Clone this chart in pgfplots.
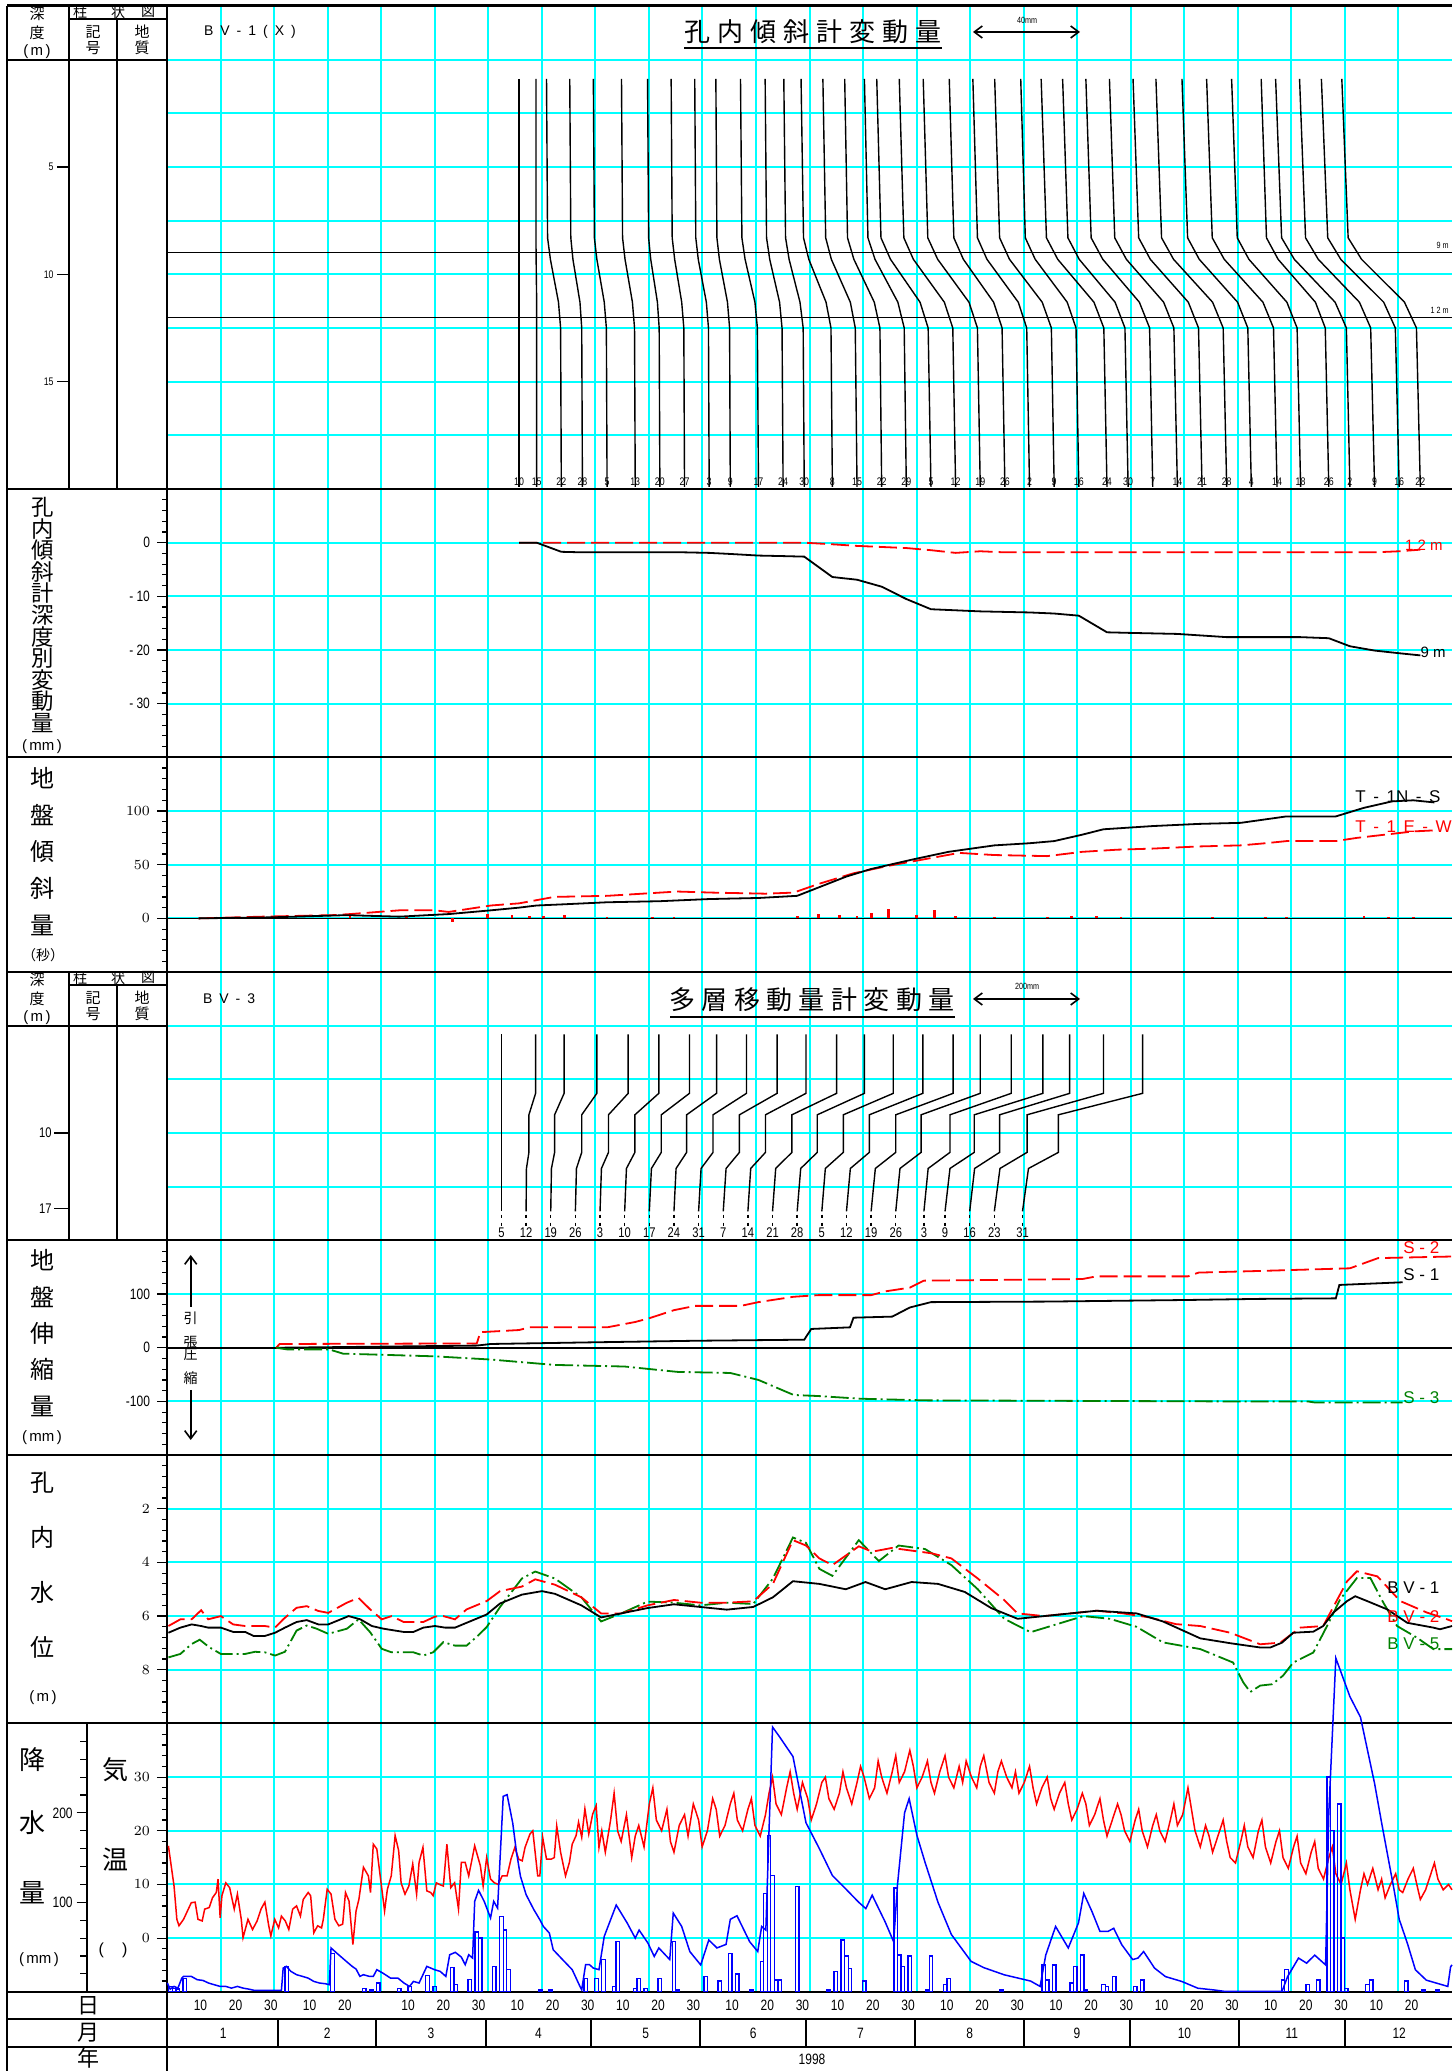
\documentclass[border=0pt]{standalone}
\usepackage{fontspec}
\setmainfont{Liberation Sans}
\newfontfamily\jp{Noto Sans CJK JP}
\newfontfamily\nar{Liberation Sans}[FakeStretch=0.8]
\usepackage{pgfplots}
\pgfplotsset{compat=1.18}
\usetikzlibrary{arrows.meta}
\definecolor{grn}{RGB}{0,128,0}
\definecolor{cya}{RGB}{0,255,255}
\definecolor{rd}{RGB}{255,0,0}
\definecolor{bl}{RGB}{0,0,255}
\newcommand\fs[1]{\fontsize{#1}{#1}\selectfont}
\pgfplotsset{panel/.style={scale only axis, width=642.5pt, xmin=0, xmax=365, xtick=\empty, anchor=south west,
  axis line style={draw=none}, ytick pos=left, tick align=outside, major tick length=5pt, minor tick length=2.5pt,
  tick style={black, line width=0.6pt}, yticklabel style={font=\nar\fs{7.5}}, clip=false},
  prof/.style={black, line width=0.7pt},
  rdash/.style={rd, line width=0.9pt, dash pattern=on 9pt off 3pt},
  gdd/.style={grn, line width=0.9pt, dash pattern=on 9pt off 2pt on 1pt off 2pt},
  blk/.style={black, line width=0.9pt},
  lbl/.style={only marks, mark=none, point meta=explicit symbolic, nodes near coords, nodes near coords align=center,
    every node near coord/.append style={font=\nar\fs{5.5}, inner sep=0pt, anchor=center}}}
\begin{document}
\begin{tikzpicture}[x=1pt,y=1pt]
\useasboundingbox (0,0) rectangle (726,1035.5);
\def\cx{26.77083}
\def\cy{26.835}
% ---------- cyan grid
\foreach \k in {1,...,23} \draw[cya,line width=1pt] ({83.5+\k*\cx},39.6) -- ({83.5+\k*\cx},1032.5);
\foreach \n in {1,2,3,4,5,6,7,8,10,11,12,13,15,16,17,19,20,21,22,24,25,26,28,29,30,31,33,34,35,36}
  \draw[cya,line width=1pt] (83.5,{1032.5-\n*\cy}) -- (726,{1032.5-\n*\cy});
% zero lines
\draw[black,line width=0.8pt] (83.5,{1032.5-17*\cy}) -- (726,{1032.5-17*\cy});
\draw[black,line width=0.8pt] (83.5,{1032.5-25*\cy}) -- (726,{1032.5-25*\cy});
% ---------- frame
\draw[line width=1.5pt] (3.5,1032.5) -- (726,1032.5);
\foreach \n in {9,14,18,23,27,32,37} \draw[line width=1pt] (3.5,{1032.5-\n*\cy}) -- (726,{1032.5-\n*\cy});
\draw[line width=1pt] (3.5,26) -- (726,26);
\draw[line width=1pt] (3.5,12) -- (726,12);
\draw[line width=1pt] (3.5,0) -- (3.5,1032.5);
\draw[line width=1pt] (83.5,0) -- (83.5,1032.5);
\draw[line width=1pt] (43.5,{1032.5-37*\cy}) -- (43.5,{1032.5-32*\cy});
% header columns panel 1
\draw[line width=1pt] (34.5,1032.5) -- (34.5,{1032.5-9*\cy});
\draw[line width=1pt] (58.5,1026) -- (58.5,{1032.5-9*\cy});
\draw[line width=1pt] (34.5,1026) -- (83.5,1026);
\draw[line width=1pt] (3.5,{1032.5-\cy}) -- (83.5,{1032.5-\cy});
% header columns panel 4
\draw[line width=1pt] (34.5,{1032.5-18*\cy}) -- (34.5,{1032.5-23*\cy});
\draw[line width=1pt] (58.5,{1026-18*\cy}) -- (58.5,{1032.5-23*\cy});
\draw[line width=1pt] (34.5,{1026-18*\cy}) -- (83.5,{1026-18*\cy});
\draw[line width=1pt] (3.5,{1032.5-19*\cy}) -- (83.5,{1032.5-19*\cy});
% month separators
\foreach \c in {31,59,90,120,151,181,212,243,273,304,334} \draw[line width=1pt] ({83.5+(\c+0.5)*1.76027},12) -- ({83.5+(\c+0.5)*1.76027},26);

% ================= PANEL 1 : BV-1(X) inclinometer profiles
\begin{axis}[panel, at={(83.5pt,791.0pt)}, height=241.5pt, ymin=-2.5, ymax=20, y dir=reverse, ytick=\empty]
\addplot[black,line width=0.6pt] coordinates {(0,9) (365,9)};
\addplot[black,line width=0.6pt] coordinates {(0,12) (365,12)};
\addplot[prof] coordinates {(100,0.9)(100,19.9)};
\addplot[prof] coordinates {(104.8,0.9)(104.8,8.3)(104.85,9.3)(105,11.3)(105,19.9)};
\addplot[prof] coordinates {(107.8,0.9)(108.1,8.3)(108.9,9.3)(111.2,11.3)(111.8,12.5)(112,19.9)};
\addplot[prof] coordinates {(114.4,0.9)(114.7,8.3)(115.3,9.3)(117.3,11.3)(117.8,12.5)(118,19.9)};
\addplot[prof] coordinates {(121.1,0.9)(121.4,8.3)(122.1,9.3)(124.2,11.3)(124.8,12.5)(125,19.9)};
\addplot[prof] coordinates {(129.1,0.9)(129.4,8.3)(130.1,9.3)(132.2,11.3)(132.8,12.5)(133,19.9)};
\addplot[prof] coordinates {(136.5,0.9)(136.8,8.3)(137.4,9.3)(139.3,11.3)(139.8,12.5)(140,19.9)};
\addplot[prof] coordinates {(143.2,0.9)(143.5,8.3)(144.2,9.3)(146.2,11.3)(146.8,12.5)(147,19.9)};
\addplot[prof] coordinates {(149.9,0.9)(150.2,8.3)(150.9,9.3)(153.2,11.3)(153.8,12.5)(154,19.9)};
\addplot[prof] coordinates {(155.9,0.9)(156.2,8.3)(156.9,9.3)(159.2,11.3)(159.8,12.5)(160,19.9)};
\addplot[prof] coordinates {(162.9,0.9)(163.3,8.3)(164.2,9.3)(167,11.3)(167.7,12.5)(168,19.9)};
\addplot[prof] coordinates {(169.9,0.9)(170.3,8.3)(171.2,9.3)(174,11.3)(174.7,12.5)(175,19.9)};
\addplot[prof] coordinates {(175.2,0.9)(175.7,8.3)(176.7,9.3)(179.8,11.3)(180.7,12.5)(181,19.9)};
\addplot[prof] coordinates {(180.1,0.9)(180.8,8.3)(182.3,9.3)(187.2,11.3)(188.6,12.5)(189,19.9)};
\addplot[prof] coordinates {(186.3,0.9)(187.1,8.3)(188.7,9.3)(194.1,11.3)(195.5,12.5)(196,19.9)};
\addplot[prof] coordinates {(192.5,0.9)(193.3,8.3)(195.1,9.3)(200.9,11.3)(202.5,12.5)(203,19.9)};
\addplot[prof] coordinates {(198.1,0.9)(199.1,8.3)(201.1,9.3)(207.6,11.3)(209.4,12.5)(210,19.9)};
\addplot[prof] coordinates {(201.6,0.9)(202.8,8.3)(205.5,9.3)(213.9,11.3)(216.2,12.5)(217,19.9)};
\addplot[prof] coordinates {(208,0.9)(209.3,8.3)(212,9.3)(220.8,11.3)(223.2,12.5)(224,19.9)};
\addplot[prof] coordinates {(214.8,0.9)(216.1,8.3)(218.9,9.3)(227.8,11.3)(230.2,12.5)(231,19.9)};
\addplot[prof] coordinates {(222.2,0.9)(223.5,8.3)(226.2,9.3)(234.8,11.3)(237.2,12.5)(238,19.9)};
\addplot[prof] coordinates {(228.9,0.9)(230.2,8.3)(232.9,9.3)(241.8,11.3)(244.2,12.5)(245,19.9)};
\addplot[prof] coordinates {(235.1,0.9)(236.5,8.3)(239.3,9.3)(248.6,11.3)(251.2,12.5)(252,19.9)};
\addplot[prof] coordinates {(242.5,0.9)(243.8,8.3)(246.6,9.3)(255.7,11.3)(258.2,12.5)(259,19.9)};
\addplot[prof] coordinates {(248.3,0.9)(249.8,8.3)(253,9.3)(263.3,11.3)(266.1,12.5)(267,19.9)};
\addplot[prof] coordinates {(254.4,0.9)(255.9,8.3)(259.1,9.3)(269.3,11.3)(272.1,12.5)(273,19.9)};
\addplot[prof] coordinates {(261,0.9)(262.5,8.3)(265.8,9.3)(276.2,11.3)(279.1,12.5)(280,19.9)};
\addplot[prof] coordinates {(267.7,0.9)(269.2,8.3)(272.5,9.3)(283.1,11.3)(286,12.5)(287,19.9)};
\addplot[prof] coordinates {(274.4,0.9)(276,8.3)(279.3,9.3)(290.1,11.3)(293,12.5)(294,19.9)};
\addplot[prof] coordinates {(280.9,0.9)(282.5,8.3)(285.9,9.3)(297,11.3)(300,12.5)(301,19.9)};
\addplot[prof] coordinates {(288.3,0.9)(289.9,8.3)(293.2,9.3)(304.1,11.3)(307,12.5)(308,19.9)};
\addplot[prof] coordinates {(295.3,0.9)(296.9,8.3)(300.3,9.3)(311.3,11.3)(314.3,12.5)(315.3,19.9)};
\addplot[prof] coordinates {(302.4,0.9)(304,8.3)(307.3,9.3)(318.1,11.3)(321,12.5)(322,19.9)};
\addplot[prof] coordinates {(310.8,0.9)(312.3,8.3)(315.6,9.3)(326.2,11.3)(329,12.5)(330,19.9)};
\addplot[prof] coordinates {(314.9,0.9)(316.6,8.3)(320.2,9.3)(331.8,11.3)(335,12.5)(336,19.9)};
\addplot[prof] coordinates {(321.7,0.9)(323.4,8.3)(327,9.3)(338.7,11.3)(341.9,12.5)(343,19.9)};
\addplot[prof] coordinates {(327.9,0.9)(329.7,8.3)(333.4,9.3)(345.6,11.3)(348.9,12.5)(350,19.9)};
\addplot[prof] coordinates {(333.7,0.9)(335.5,8.3)(339.3,9.3)(351.5,11.3)(354.9,12.5)(356,19.9)};
\addplot[lbl] table[meta=l] {
x y l
100 19.65 10
105 19.65 15
112 19.65 22
118 19.65 28
125 19.65 5
133 19.65 13
140 19.65 20
147 19.65 27
154 19.65 3
160 19.65 9
168 19.65 17
175 19.65 24
181 19.65 30
189 19.65 8
196 19.65 15
203 19.65 22
210 19.65 29
217 19.65 5
224 19.65 12
231 19.65 19
238 19.65 26
245 19.65 2
252 19.65 9
259 19.65 16
267 19.65 24
273 19.65 30
280 19.65 7
287 19.65 14
294 19.65 21
301 19.65 28
308 19.65 4
315.3 19.65 14
322 19.65 18
330 19.65 26
336 19.65 2
343 19.65 9
350 19.65 16
356 19.65 22
};
\end{axis}

% ================= PANEL 2 : depth displacement
\begin{axis}[panel, at={(83.5pt,656.81pt)}, height=134.175pt, ymin=-40, ymax=10,
  ytick={-30,-20,-10,0}, yticklabels={- 30,- 20,- 10,0}, minor ytick={-40,-38,...,10}]
\addplot[rdash] coordinates {(100,0)(105,0)(112,0)(125,0)(140,0)(154,0)(168,0)(181,0)(189,-0.3)(196,-0.6)(203,-0.8)(210,-1.0)(217,-1.4)(224,-1.9)(231,-1.6)(238,-1.8)(245,-1.8)(259,-1.8)(273,-1.8)(287,-1.8)(301,-1.8)(315,-1.8)(330,-1.8)(343,-1.8)(350,-1.6)(356,-1.3)};
\addplot[blk] coordinates {(100,0)(105,0)(112,-1.7)(118,-1.8)(125,-1.8)(133,-1.8)(140,-1.8)(147,-1.8)(154,-1.9)(160,-2.1)(168,-2.4)(175,-2.5)(181,-2.6)(189,-6.4)(196,-6.9)(203,-8.2)(210,-10.5)(217,-12.4)(224,-12.6)(231,-12.8)(238,-12.9)(245,-13.0)(252,-13.2)(259,-13.6)(267,-16.7)(273,-16.8)(280,-16.9)(287,-17.0)(294,-17.3)(301,-17.6)(308,-17.6)(315,-17.6)(322,-17.6)(330,-17.8)(336,-19.3)(343,-20.1)(350,-20.6)(356,-21.0)};
\end{axis}

% ================= PANEL 3 : ground tilt
\begin{axis}[panel, at={(83.5pt,549.47pt)}, height=107.34pt, ymin=-50, ymax=150,
  ytick={0,50,100}, minor ytick={-50,-40,...,150}]
\addplot[rd, ycomb, line width=1.4pt] coordinates {(27,1)(52,3)(68,1)(81,-3)(91,4)(98,3)(103,2)(107,2)(113,3)(125,1)(138,1)(144,1)(179,2)(185,4)(191,3)(196,2)(200,5)(205,9)(213,3)(218,8)(224,2)(235,1)(250,1)(257,2)(264,2)(271,1)(297,1)(312,1)(318,1)(340,2)(347,1)(354,1)};
\addplot[rdash] coordinates {(9,0)(27,1.6)(47,3)(52,4)(66,7.5)(76,7.5)(80,6)(92,12)(100,14)(105,17)(110,20)(125,21)(135,23)(145,25)(155,24)(170,23)(178,24)(185,32)(195,42)(205,49)(215,55)(225,61)(235,59)(250,58)(260,62)(270,64)(280,65)(293,67)(305,68)(312,70)(318,72)(332,72)(338,75)(346,78)(354,81)(360,82)};
\addplot[blk] coordinates {(9,0)(30,1)(51,3)(66,1.6)(80,4)(92,7.5)(100,10)(105,12)(112,13)(125,15)(140,16)(154,18)(168,19)(179,21)(186,30)(193,39)(200,46)(212,55)(222,62)(235,68)(245,70)(252,72)(260,78)(266,83)(280,86)(293,88)(305,89)(318,95)(332,95)(340,103)(348,109)(354,110)(360,108)};
\end{axis}

% ================= PANEL 4 : BV-3 multi-layer
\begin{axis}[panel, at={(83.5pt,415.3pt)}, height=134.175pt, ymin=-5, ymax=20, y dir=reverse, ytick=\empty]
\addplot[prof] coordinates {(95,0.8)(95,17.3)};
\addplot[prof] coordinates {(104.7,0.8)(104.7,6.3)(102.8,8.3)(102.8,11.8)(102.1,13.3)(102,17.3)};
\addplot[prof] coordinates {(112.8,0.8)(112.8,6.3)(110.1,8.3)(110.1,11.8)(109.2,13.3)(109,17.3)};
\addplot[prof] coordinates {(122.1,0.8)(122.1,6.3)(117.8,8.3)(117.8,11.8)(116.3,13.3)(116,17.3)};
\addplot[prof] coordinates {(131,0.8)(131,6.3)(125.4,8.3)(125.4,11.8)(123.4,13.3)(123,17.3)};
\addplot[prof] coordinates {(139.7,0.8)(139.7,6.3)(132.9,8.3)(132.9,11.8)(130.5,13.3)(130,17.3)};
\addplot[prof] coordinates {(148.4,0.8)(148.4,6.3)(140.4,8.3)(140.4,11.8)(137.6,13.3)(137,17.3)};
\addplot[prof] coordinates {(156.1,0.8)(156.1,6.3)(147.6,8.3)(147.6,11.8)(144.6,13.3)(144,17.3)};
\addplot[prof] coordinates {(164.6,0.8)(164.6,6.3)(155.1,8.3)(155.1,11.8)(151.7,13.3)(151,17.3)};
\addplot[prof] coordinates {(173.3,0.8)(173.3,6.3)(162.6,8.3)(162.6,11.8)(158.8,13.3)(158,17.3)};
\addplot[prof] coordinates {(181.5,0.8)(181.5,6.3)(170,8.3)(170,11.8)(165.8,13.3)(165,17.3)};
\addplot[prof] coordinates {(190.2,0.8)(190.2,6.3)(177.5,8.3)(177.5,11.8)(172.9,13.3)(172,17.3)};
\addplot[prof] coordinates {(198.1,0.8)(198.1,6.3)(184.7,8.3)(184.7,11.8)(180,13.3)(179,17.3)};
\addplot[prof] coordinates {(206.3,0.8)(206.3,6.3)(192.1,8.3)(192.1,11.8)(187,13.3)(186,17.3)};
\addplot[prof] coordinates {(214.7,0.8)(214.7,6.3)(199.5,8.3)(199.5,11.8)(194.1,13.3)(193,17.3)};
\addplot[prof] coordinates {(223.3,0.8)(223.3,6.3)(207,8.3)(207,11.8)(201.2,13.3)(200,17.3)};
\addplot[prof] coordinates {(231,0.8)(231,6.3)(214.2,8.3)(214.2,11.8)(208.2,13.3)(207,17.3)};
\addplot[prof] coordinates {(239.8,0.8)(239.8,6.3)(222.4,8.3)(222.4,11.8)(216.2,13.3)(215,17.3)};
\addplot[prof] coordinates {(248.8,0.8)(248.8,6.3)(229.3,8.3)(229.3,11.8)(222.4,13.3)(221,17.3)};
\addplot[prof] coordinates {(256.4,0.8)(256.4,6.3)(236.5,8.3)(236.5,11.8)(229.4,13.3)(228,17.3)};
\addplot[prof] coordinates {(266,0.8)(266,6.3)(244.3,8.3)(244.3,11.8)(236.6,13.3)(235,17.3)};
\addplot[prof] coordinates {(277.1,0.8)(277.1,6.3)(253.2,8.3)(253.2,11.8)(244.7,13.3)(243,17.3)};
\addplot[black, line width=0.7pt, dash pattern=on 1.5pt off 2.5pt, unbounded coords=jump] coordinates {(95,17.6)(95,18.7)(95,nan)(102,17.6)(102,18.7)(102,nan)(109,17.6)(109,18.7)(109,nan)(116,17.6)(116,18.7)(116,nan)(123,17.6)(123,18.7)(123,nan)(130,17.6)(130,18.7)(130,nan)(137,17.6)(137,18.7)(137,nan)(144,17.6)(144,18.7)(144,nan)(151,17.6)(151,18.7)(151,nan)(158,17.6)(158,18.7)(158,nan)(165,17.6)(165,18.7)(165,nan)(172,17.6)(172,18.7)(172,nan)(179,17.6)(179,18.7)(179,nan)(186,17.6)(186,18.7)(186,nan)(193,17.6)(193,18.7)(193,nan)(200,17.6)(200,18.7)(200,nan)(207,17.6)(207,18.7)(207,nan)(215,17.6)(215,18.7)(215,nan)(221,17.6)(221,18.7)(221,nan)(228,17.6)(228,18.7)(228,nan)(235,17.6)(235,18.7)(235,nan)(243,17.6)(243,18.7)};
\addplot[lbl, every node near coord/.append style={font=\nar\fs{7}}] table[meta=l] {
x y l
95 19.3 5
102 19.3 12
109 19.3 19
116 19.3 26
123 19.3 3
130 19.3 10
137 19.3 17
144 19.3 24
151 19.3 31
158 19.3 7
165 19.3 14
172 19.3 21
179 19.3 28
186 19.3 5
193 19.3 12
200 19.3 19
207 19.3 26
215 19.3 3
221 19.3 9
228 19.3 16
235 19.3 23
243 19.3 31
};
\end{axis}

% ================= PANEL 5 : extension
\begin{axis}[panel, at={(83.5pt,307.955pt)}, height=107.34pt, ymin=-200, ymax=200,
  ytick={-100,0,100}, yticklabels={-100,0,100}, minor ytick={-200,-180,...,200}]
\addplot[rdash] coordinates {(31,0)(32,7)(88,8)(89,29)(100,33)(103,38)(125,38)(133,48)(137,55)(144,70)(150,78)(163,78)(168,85)(178,95)(185,98)(200,98)(204,105)(211,112)(215,125)(260,128)(264,133)(290,133)(293,140)(310,143)(336,148)(344,167)(365,170)};
\addplot[blk] coordinates {(31,0)(60,2)(88,4)(92,7)(120,10)(150,13)(181,15)(183,35)(194,38)(195,56)(206,58)(211,75)(217,85)(250,86)(290,89)(310,91)(332,92)(333,117)(351,122)};
\addplot[gdd] coordinates {(31,0)(34,-3)(46,-3)(50,-11)(76,-16)(92,-22)(110,-32)(130,-35)(145,-45)(160,-47)(168,-60)(178,-88)(185,-90)(197,-95)(215,-98)(300,-100)(324,-100)(326,-102)(351,-102)};
\end{axis}

% ================= PANEL 6 : groundwater level
\begin{axis}[panel, at={(83.5pt,173.78pt)}, height=134.175pt, ymin=0, ymax=10, y dir=reverse,
  ytick={2,4,6,8}, minor ytick={0,0.4,...,10}]
\addplot[gdd] coordinates {(0.4,7.54)(3.8,7.41)(7,7.04)(9.3,6.88)(12,7.16)(15.3,7.41)(18.8,7.41)(22.2,7.41)(25,7.33)(27.8,7.35)(30.7,7.47)(33.5,7.33)(36.8,6.54)(39.7,6.35)(42.5,6.47)(45.8,6.66)(51.1,6.47)(54.4,6.12)(57.7,6.6)(61,7.22)(63.8,7.35)(67.2,7.35)(70,7.35)(72.8,7.47)(75.6,7.35)(78.5,6.97)(81.8,7.1)(85.1,7.1)(88.4,6.72)(90.8,6.41)(94.6,5.66)(100.8,4.6)(104.6,4.34)(110.2,4.6)(117.7,5.3)(123.3,6.2)(129,5.9)(136.5,5.46)(144,5.5)(151.5,5.6)(159,5.5)(166.5,5.55)(172.1,4.6)(177.8,3.07)(181.5,3.27)(185.3,4.24)(189,4.5)(196.5,3.17)(202.2,3.95)(207.8,3.37)(215.3,3.5)(222.8,4.1)(230.3,5.0)(237.8,6.1)(245.3,6.6)(252.8,6.3)(260.3,6.0)(267.8,6.1)(275.4,6.4)(282.9,6.98)(293.5,7.23)(302.8,7.73)(305.7,8.47)(307.7,8.83)(310.5,8.59)(313.9,8.54)(317,8.22)(319.9,7.73)(325.6,7.36)(329.5,6.37)(333.2,5.38)(338,4.58)(341.8,4.58)(345.5,5.5)(349.4,6.37)(355,6.8)(359.7,7.23)(365,7.23)};
\addplot[rdash] coordinates {(0.4,6.37)(3.8,6.12)(7,6.12)(9.7,5.78)(11.7,6.12)(15.3,6.0)(18.8,6.31)(22.2,6.37)(27.8,6.37)(30.7,6.43)(33,6.12)(36.8,5.69)(39.7,5.63)(43,5.81)(45.8,5.88)(51.1,5.5)(54.4,5.32)(57.7,5.75)(61,6.12)(63.8,6.0)(67.2,6.22)(72.8,6.22)(76.1,6.02)(78.5,6.0)(81.8,6.12)(85.1,5.75)(90.8,5.44)(94.6,5.07)(100.8,4.9)(104.6,4.63)(110.2,4.83)(117.7,5.3)(123.3,5.9)(129,5.9)(136.5,5.6)(144,5.4)(151.5,5.5)(159,5.5)(166.5,5.45)(172.1,4.8)(177.8,3.17)(181.5,3.37)(185.3,3.85)(189,4.1)(196.5,3.4)(200.3,3.6)(205.9,3.46)(211.5,3.56)(217.2,3.66)(222.8,3.85)(230.3,4.6)(237.8,5.4)(241.6,5.9)(249.1,6.0)(256.6,5.9)(264.1,5.8)(271.6,5.9)(279.1,6.05)(286.6,6.3)(293.5,6.37)(302,6.62)(310.5,7.05)(316.2,6.99)(321.9,6.43)(328.4,6.37)(335.2,4.7)(338,4.33)(343.8,4.52)(350.3,5.44)(357.9,5.87)(363.6,6.12)(365,6.19)};
\addplot[blk] coordinates {(0.4,6.62)(3.8,6.43)(7,6.31)(9.7,6.37)(11.7,6.43)(15.3,6.43)(18.8,6.59)(22.2,6.59)(24.6,6.74)(27.8,6.74)(30.7,6.62)(33.5,6.43)(36.8,6.22)(39.7,6.15)(43,6.31)(45.8,6.31)(51.6,6.0)(54.9,6.12)(58.2,6.37)(61.5,6.47)(67.2,6.59)(70,6.59)(72.8,6.43)(76.1,6.37)(79,6.43)(81.8,6.43)(85.1,6.25)(90.8,5.94)(94.6,5.53)(100.8,5.2)(106.5,5.07)(110.2,5.17)(117.7,5.6)(123.3,6.05)(129,5.9)(136.5,5.7)(144,5.56)(151.5,5.66)(159,5.76)(166.5,5.66)(172.1,5.3)(177.8,4.7)(185.3,4.8)(192.8,5.0)(198.4,4.73)(204,5.0)(211.5,4.73)(219,4.8)(226.6,5.1)(234.1,5.7)(241.6,6.1)(249.1,6.0)(256.6,5.9)(264.1,5.8)(275.4,5.9)(282.9,6.2)(293.5,6.83)(302,7.01)(310.5,7.17)(313.4,7.17)(316.7,6.99)(319.9,6.62)(325.6,6.58)(328.4,6.37)(331.3,5.87)(335.2,5.44)(337.5,5.26)(340.9,5.44)(346.6,5.75)(352.3,6.25)(359.7,6.43)(361.6,6.49)(365,6.37)};
\end{axis}

% ================= PANEL 7 : temperature
\begin{axis}[panel, at={(83.5pt,39.605pt)}, height=134.175pt, ymin=-10, ymax=40,
  ytick={0,10,20,30}, minor ytick={-10,-8,...,40}]
\addplot[rd, line width=0.75pt] coordinates {(0.4,17.2)(2.0,9.7)(2.8,3.5)(3.4,2.3)(4.7,3.5)(5.8,5.05)(6.9,6.6)(8.0,6.7)(8.8,3.5)(10.0,3.2)(10.7,5.4)(12.0,5.7)(12.9,7.5)(14.0,8.5)(14.5,11.0)(15.1,3.8)(15.6,7.9)(16.7,10.3)(17.8,9.4)(19.1,5.4)(20.0,8.2)(21.1,3.5)(21.6,0.07)(23.0,3.5)(24.3,1.6)(25.6,3.2)(26.7,5.4)(27.8,6.7)(28.9,2.3)(29.5,0.4)(30.6,3.5)(31.7,1.9)(32.5,4.1)(33.6,3.2)(34.6,1.6)(35.7,5.4)(36.8,6.0)(37.9,4.1)(38.7,7.2)(40.1,8.5)(40.8,7.9)(41.7,1.0)(42.8,2.3)(43.9,1.9)(44.4,3.5)(45.5,9.1)(46.6,8.2)(47.7,3.5)(48.8,2.3)(49.9,2.6)(50.7,8.5)(51.7,6.9)(52.8,-1.2)(53.7,5.05)(54.5,7.2)(55.8,13.2)(57.2,11.6)(57.8,8.5)(58.6,17.5)(59.6,16.6)(61.8,5.05)(62.6,9.1)(63.7,11.6)(64.8,19.1)(65.8,16.3)(66.5,10.3)(67.6,8.2)(68.7,9.7)(69.8,13.8)(70.9,8.2)(71.6,14.1)(72.7,16.9)(73.8,8.8)(74.9,8.5)(75.6,7.9)(76.5,10.3)(77.4,10.0)(78.5,9.7)(79.5,17.5)(80.6,9.4)(81.7,10.3)(82.8,5.4)(83.6,14.1)(84.7,14.1)(85.7,11.6)(87.4,17.2)(89.0,13.5)(89.8,9.7)(90.8,15.0)(91.9,11.0)(93.0,10.3)(94.1,10.0)(95.2,11.6)(96.6,11.6)(97.7,14.7)(98.8,16.9)(99.9,14.7)(100.9,14.4)(101.7,16.9)(103.1,19.4)(103.9,20.0)(105.3,11.6)(105.9,11.6)(106.7,18.8)(107.8,14.7)(109.1,14.7)(110,15.0)(110.7,20.9)(111.8,16.0)(113.2,11.6)(114.3,14.1)(115.1,17.5)(116.2,19.1)(116.9,21.6)(117.8,18.8)(118.7,24.1)(119.8,19.4)(120.9,23.1)(121.9,24.7)(122.7,16.9)
(123.5,20)(124.5,16)(126,22)(127,27)(128,20)(129,18)(130.5,23)(132,15)(133,19)(134,21)(135.5,17)(137,25)(138,28)(139,22)(140.5,20)(142,24)(143,18)(144,16)(145.5,21)(147,23)(148,19)(149.5,25)(151,22)(152,17)(153.5,20)(155,26)(156,24)(157,19)(158.5,21)(160,25)(161,27)(162,22)(163.5,20)(165,24)(166,26)(167,21)(168.5,19)(170,23)(171,27)(172,30)(173,25)(174.5,23)(176,28)(177,31)(178,27)(179,24)(180.5,29)(182,26)(183,22)(184.5,25)(186,29)(187,30)(188,26)(189.5,24)(191,27)(192,31)(193,28)(194.5,25)(196,29)(197,32)(198,30)(199.5,26)(201,28)(202,33)(203,30)(204.5,27)(206,31)(207,34)(208,29)(209.5,31)(211,35)(212,32)(213,28)(214.5,30)(216,33)(217,29)(218,27)(219.5,31)(221,34)(222,30)(223.5,28)(225,32)(226,29)(227,33)(228.5,30)(230,28)(231,32)(232,34)(233.5,29)(235,27)(236,31)(237,33)(238.5,30)(240,28)(241,31)(242,27)(243.5,29)(245,32)(246,28)(247,25)(248.5,28)(250,30)(251,26)(252,24)(253.5,27)(255,29)(256,25)(257,22)(258.5,24)(260,27)(261,25)(262,21)(263.5,23)(265,26)(266,22)(267,19)(268.5,22)(270,25)(271,23)(272,20)(273.5,18)(275,22)(276,24)(277,20)(278.5,17)(280,21)(281,23)(282,20)(283.5,18)(285,22)(286,25)(287,21)(288.5,23)(290,28)(291,24)(292,20)(293.5,17)(295,21)(296,19)(297,16)(298.5,19)(300,22)(301,18)(302,15)(303.5,14)(305,18)(306,21)(307,17)(308.5,15)(310,20)(311,22)(312,17)(313.5,14)(315,18)(316,20)(317,15)(318.5,13)(320,17)(321,19)(322,14)(323.5,12)(325,16)(326,18)(327,13)(328.5,11)(330,15)(331,17)(332,12)(333.5,10)(335,14)(336,9)(337.5,3.5)(339,9)(340,12)(341,10)(342.5,13)(344,9)(345,11)(346,7.5)(347.5,10)(349,12)(350,9)(351,8.5)(352.5,11)(354,13)(355,10)(356,7.2)(357.5,9)(359,12)(360,14)(361,11)(362.5,9)(364,10)(365,9)};
\end{axis}
% precipitation axis
\begin{axis}[panel, at={(83.5pt,39.605pt)}, height=134.175pt, ymin=0, ymax=300, ytick=\empty]
\addplot[bl, ybar, bar width=1, bar shift=0pt, fill=none, line width=0.7pt] coordinates {(1,6)(2,4)(3,3)(5,15)(34,28)(47,43)(56,4)(58,2)(60,10)(66,4)(69,6)(74,18)(76,6)(81,27)(82,8)(86,14)(88,67)(89,60)(93,28)(95,84)(96,69)(97,25)(106,2)(109,2)(119,15)(122,15)(124,36)(127,6)(128,56)(133,4)(134,15)(136,4)(140,15)(144,56)(145,2)(153,17)(157,12)(160,43)(162,20)(166,2)(169,34)(170,110)(171,175)(172,130)(173,13)(174,13)(179,118)(188,2)(190,23)(192,58)(193,40)(194,26)(198,12)(207,116)(208,41)(209,28)(211,40)(216,2)(217,40)(221,8)(222,15)(237,2)(249,30)(250,13)(252,30)(257,10)(258,28)(260,41)(261,2)(266,8)(267,6)(269,17)(275,6)(277,13)(317,13)(318,25)(324,8)(327,13)(330,240)(331,180)(333,210)(334,60)(335,4)(341,8)(342,13)(352,12)(357,2)(361,2)};
\addplot[bl, line width=0.75pt] coordinates {(0.1,9.8)(0.9,3.0)(2.0,6.0)(3.1,4.1)(4.2,15.3)(4.7,17.2)(6.9,17.2)(8.6,13.5)(10.2,12.7)(11.8,9.8)(13.4,7.9)(15.1,6.0)(16.7,6.0)(18.3,4.1)(20,6.0)(21.6,4.1)(23.2,3.0)(24.9,1.5)(32.5,1.5)(33,26.5)(33.9,28.4)(35.2,22.8)(36.8,19.1)(38.5,17.2)(40.1,15.3)(41.7,11.6)(43.3,9.8)(45,9.0)(46.1,7.9)(46.6,49)(48.2,43.3)(50.4,35.8)(52.6,28.4)(53.7,25.4)(54.8,17.2)(55.8,19.1)(57.5,17.2)(58.6,17.2)(59.6,24.7)(61.3,20.9)(63.5,15.3)(65.6,15.3)(67.3,9.8)(68.9,6.0)(70,11.6)(71.6,9.8)(73.8,28.4)(76,24.7)(77.6,22.8)(79.2,17.2)(80.3,41.4)(81.9,44.1)(83.6,38.8)(84.7,30.3)(85.7,41.4)(86.8,37.7)(87.4,101.1)(88.5,113.4)(90.1,101.1)(91.9,82.5)(92.8,101.1)(93.9,93.6)(95.5,218.5)(96.6,220.4)(98.2,188.7)(99.3,155.2)(100.4,129.1)(102,108.6)(104.2,91.8)(105.9,80.6)(106.9,73.1)(108.6,65.7)(109.7,47)(112.4,35.8)(115.1,24.7)(117.3,6.0)(117.8,2.3)(118.9,30.3)(120,30.3)(121.1,26.5)(122.7,24.7)(124.2,62)(127.6,97)(130.7,77)(133,60)(134.1,69)(136.6,54.5)(138.4,39.5)(139.7,49)(142.8,36)(143.8,88)(146.2,73)(148.5,45)(151.6,30)(153.9,58)(156.2,49)(158.8,53)(160,81)(161.9,85)(165.5,56)(167.8,45)(168.9,73)(170.1,69)(171,180)(172,296)(174,285)(177.8,263)(181.5,189)(185.3,160)(189,130)(192.8,115)(196.5,100)(198.5,93)(200.3,108)(204,78)(206.4,56)(207.5,120)(209.5,200)(210.8,216)(213,175)(215.3,145)(219,100)(222.8,64)(228.4,34)(232,27)(237.8,19)(245.3,12)(248,6)(249.6,41)(252.4,73)(256,49)(258.9,77)(260.4,110)(262.7,90)(265,67.5)(267.3,67.5)(268.9,71)(271.2,52.6)(274.3,36)(275.8,37.7)(277.4,45)(280.5,26.5)(283.6,17)(288.2,11.6)(292.8,4)(297.5,2)(300.5,0.4)(316.7,0.4)(318.3,17)(321.4,37.7)(323.7,32)(326,41)(329.1,30)(330,200)(332,373)(336,330)(339,307)(343,233)(345,189)(348.5,115)(350,81)(352.3,54.5)(354.6,24.6)(357.7,13)(363.8,6)(364.6,28)(365,30)};
\end{axis}

% ================= precipitation scale
\foreach \v in {20,40,...,280} \draw[line width=0.6pt] (40,{39.605+\v*0.44725}) -- (43.5,{39.605+\v*0.44725});
\draw[line width=0.6pt] (38.25,{39.605+100*0.44725}) -- (43.5,{39.605+100*0.44725});
\draw[line width=0.6pt] (38.25,{39.605+200*0.44725}) -- (43.5,{39.605+200*0.44725});
\node[font=\nar\fs{7.5}, anchor=east, inner sep=1pt] at (37.5,{39.605+200*0.44725}) {200};
\node[font=\nar\fs{7.5}, anchor=east, inner sep=1pt] at (37.5,{39.605+100*0.44725}) {100};

% ================= texts: panel 1 header
\node[font=\jp\fs{7.5}] at (18.5,1028.5) {深};
\node[font=\jp\fs{7.5}] at (18.5,1019) {度};
\node[font=\fs{7.5}] at (18.5,1009.5) {(\,m\,)};
\node[font=\jp\fs{7}] at (40,1029.5) {柱};
\node[font=\jp\fs{7}] at (59,1029.5) {状};
\node[font=\jp\fs{7}] at (74,1029.5) {図};
\node[font=\jp\fs{7.5}] at (46.5,1019.5) {記};
\node[font=\jp\fs{7.5}] at (46.5,1011.5) {号};
\node[font=\jp\fs{7.5}] at (71,1019.5) {地};
\node[font=\jp\fs{7.5}] at (71,1011.5) {質};
\node[font=\fs{7}, anchor=west] at (98.5,1019.5) {B\kern3.5pt V\kern3.5pt -\kern3.5pt 1\kern3.5pt (\kern3.5pt X\kern3.5pt )};
\node[font=\jp\fs{13}] at (406.5,1019.8) {孔\kern3.5pt 内\kern3.5pt 傾\kern3.5pt 斜\kern3.5pt 計\kern3.5pt 変\kern3.5pt 動\kern3.5pt 量};
\draw[line width=1.2pt] (342,1011.5) -- (471,1011.5);
\draw[{Straight Barb[length=4pt,width=6pt]}-{Straight Barb[length=4pt,width=6pt]}, line width=0.8pt] (486.5,1019.5) -- (540,1019.5);
\node[font=\nar\fs{4.5}] at (513.5,1025.5) {40mm};
\foreach \d in {5,10,15} {
  \draw[line width=0.6pt] (28.5,{1005.665-\d*10.733}) -- (34.5,{1005.665-\d*10.733});
  \node[font=\nar\fs{5.5}, anchor=east, inner sep=1pt] at (28,{1005.665-\d*10.733}) {\d};
}
\node[font=\nar\fs{4.5}, anchor=east, inner sep=0.5pt] at (725,912.7) {9 m};
\node[font=\nar\fs{4.5}, anchor=east, inner sep=0.5pt] at (725,880.3) {1 2 m};

% panel 2 texts
\node[font=\jp\fs{11.2}, align=center, inner sep=0pt] at (21.5,728) {孔\\[-0.4pt]内\\[-0.4pt]傾\\[-0.4pt]斜\\[-0.4pt]計\\[-0.4pt]深\\[-0.4pt]度\\[-0.4pt]別\\[-0.4pt]変\\[-0.4pt]動\\[-0.4pt]量};
\node[font=\fs{7.5}] at (21,662) {(\,mm\,)};
\node[font=\fs{7.5}, rd, anchor=east, inner sep=0.5pt] at (722,762.7) {1 2 m};
\node[font=\fs{7.5}, anchor=east, inner sep=0.5pt] at (723.5,709.2) {9 m};

% panel 3 texts
\node[font=\jp\fs{12}, align=center, inner sep=0pt] at (21.5,609.8) {地\\[6.4pt]盤\\[6.4pt]傾\\[6.4pt]斜\\[6.4pt]量};
\node[font=\jp\fs{7}] at (21.5,558) {（秒）};
\node[font=\fs{8.5}, anchor=west, inner sep=0pt] at (677.5,637.2) {T\,\ -\ \,1N\,\ -\ \,S};
\node[font=\fs{8.5}, rd, anchor=west, inner sep=0pt] at (677.5,622.2) {T\,\ -\ \,1\,\ E\,\ -\ \,W};

% panel 4 header
\node[font=\jp\fs{7.5}] at (18.5,545.5) {深};
\node[font=\jp\fs{7.5}] at (18.5,536) {度};
\node[font=\fs{7.5}] at (18.5,526.5) {(\,m\,)};
\node[font=\jp\fs{7}] at (40,546.5) {柱};
\node[font=\jp\fs{7}] at (59,546.5) {状};
\node[font=\jp\fs{7}] at (74,546.5) {図};
\node[font=\jp\fs{7.5}] at (46.5,536.5) {記};
\node[font=\jp\fs{7.5}] at (46.5,528.5) {号};
\node[font=\jp\fs{7.5}] at (71,536.5) {地};
\node[font=\jp\fs{7.5}] at (71,528.5) {質};
\node[font=\fs{7}, anchor=west] at (98,536) {B\kern3.5pt V\kern3.5pt -\kern3.5pt 3};
\node[font=\jp\fs{13}] at (406,535.5) {多\kern3.2pt 層\kern3.2pt 移\kern3.2pt 動\kern3.2pt 量\kern3.2pt 計\kern3.2pt 変\kern3.2pt 動\kern3.2pt 量};
\draw[line width=1.2pt] (335,527) -- (477.5,527);
\draw[{Straight Barb[length=4pt,width=6pt]}-{Straight Barb[length=4pt,width=6pt]}, line width=0.8pt] (486.5,536) -- (540,536);
\node[font=\nar\fs{4.5}] at (513.5,542.5) {200mm};
\draw[line width=0.6pt] (27,{522.63-10*5.3669}) -- (34.5,{522.63-10*5.3669});
\draw[line width=0.6pt] (27,{522.63-17*5.3669}) -- (34.5,{522.63-17*5.3669});
\node[font=\nar\fs{7}, anchor=east, inner sep=0.5pt] at (26.5,{522.63-10*5.3669}) {10};
\node[font=\nar\fs{7}, anchor=east, inner sep=0.5pt] at (26.5,{522.63-17*5.3669}) {17};

% panel 5 texts
\node[font=\jp\fs{12}, align=center, inner sep=0pt] at (21.5,369) {地\\[6.2pt]盤\\[6.2pt]伸\\[6.2pt]縮\\[6.2pt]量};
\node[font=\fs{7.5}] at (21,316.5) {(\,mm\,)};
\draw[-{Straight Barb[length=4pt,width=6pt]}, line width=0.8pt] (95.35,382.2) -- (95.35,408);
\draw[-{Straight Barb[length=4pt,width=6pt]}, line width=0.8pt] (95.35,340.5) -- (95.35,315.5);
\node[font=\jp\fs{7}] at (95.35,376.5) {引};
\node[font=\jp\fs{7}] at (95.35,364.5) {張};
\node[font=\jp\fs{7}] at (95.35,358) {圧};
\node[font=\jp\fs{7}] at (95.35,346.5) {縮};
\node[font=\fs{8.5}, rd, anchor=west, inner sep=0pt] at (701.5,411.5) {S\ -\ 2};
\node[font=\fs{8.5}, anchor=west, inner sep=0pt] at (701.5,398) {S\ -\ 1};
\node[font=\fs{8.5}, grn, anchor=west, inner sep=0pt] at (701.5,336.5) {S\ -\ 3};

% panel 6 texts
\node[font=\jp\fs{12}, align=center, inner sep=0pt] at (21.5,252.75) {孔\\[15.5pt]内\\[15.5pt]水\\[15.5pt]位};
\node[font=\fs{7.5}] at (21.5,186.5) {(\,m\,)};
\node[font=\fs{8.5}, anchor=west, inner sep=0pt] at (693.5,241.5) {B\ V\ -\ 1};
\node[font=\fs{8.5}, rd, anchor=west, inner sep=0pt] at (693.5,227) {B\ V\ -\ 2};
\node[font=\fs{8.5}, grn, anchor=west, inner sep=0pt] at (693.5,213.5) {B\ V\ -\ 5};

% panel 7 texts
\node[font=\jp\fs{13}] at (16.25,155.5) {降};
\node[font=\jp\fs{13}] at (16.25,124) {水};
\node[font=\jp\fs{13}] at (16.25,89) {量};
\node[font=\fs{7.5}] at (19.5,55.5) {(\,mm\,)};
\node[font=\jp\fs{13}] at (57.5,150.5) {気};
\node[font=\jp\fs{13}] at (57.5,105.5) {温};
\node[font=\fs{8}] at (56.5,60.5) {(\hspace{9pt})};

% date rows
\node[font=\jp\fs{11}] at (44,32.5) {日};
\node[font=\jp\fs{11}] at (44,19) {月};
\node[font=\jp\fs{11}] at (44,6.5) {年};
\foreach \c/\d/\m in {0/31/1,31/28/2,59/31/3,90/30/4,120/31/5,151/30/6,181/31/7,212/31/8,243/30/9,273/31/10,304/30/11,334/31/12} {
  \node[font=\nar\fs{7.5}] at ({83.5+(\c+9.5)*1.76027},32.75) {10};
  \node[font=\nar\fs{7.5}] at ({83.5+(\c+19.5)*1.76027},32.75) {20};
  \ifnum\d>29 \ifnum\m<12 \node[font=\nar\fs{7.5}] at ({83.5+(\c+29.5)*1.76027},32.75) {30}; \fi\fi
  \node[font=\nar\fs{7.5}] at ({83.5+(\c+\d/2+0.5)*1.76027},19) {\m};
}
\node[font=\nar\fs{7.5}] at (406,6) {1998};
\end{tikzpicture}
\end{document}
